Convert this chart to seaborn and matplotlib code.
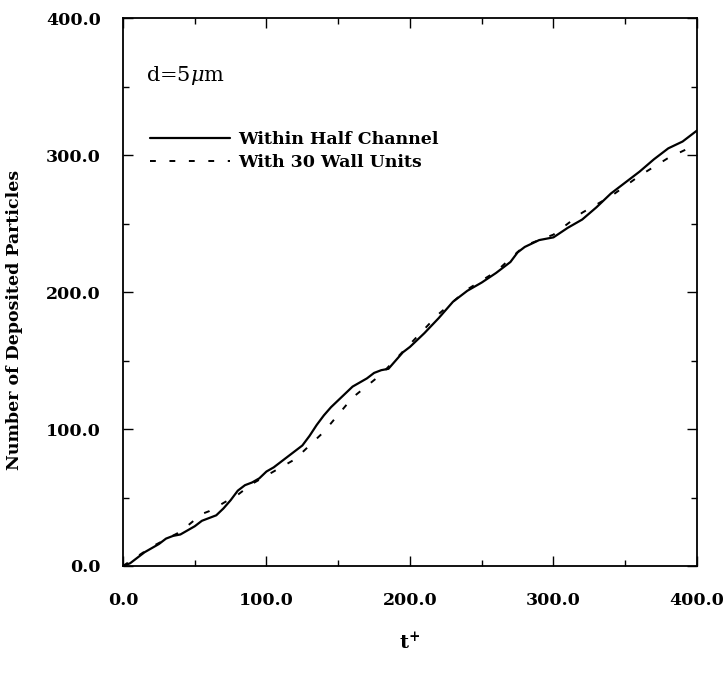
import numpy as np
import pandas as pd
import matplotlib
matplotlib.use("Agg")
import matplotlib.pyplot as plt
from matplotlib.ticker import MultipleLocator, FormatStrFormatter
import seaborn as sns

# solid curve: deposited particles within half channel
t_half = [0, 5, 10, 15, 20, 25, 30, 35, 40, 45, 50, 55, 60, 65, 70, 75, 80, 85, 90, 95,
          100, 105, 110, 115, 120, 125, 130, 135, 140, 145, 150, 155, 160, 165, 170, 175,
          180, 185, 190, 195, 200, 210, 220, 230, 240, 250, 260, 270, 275, 280, 290, 300,
          310, 320, 330, 340, 350, 360, 370, 380, 390, 400]
n_half = [0, 2, 6, 10, 13, 16, 20, 22, 23, 26, 29, 33, 35, 37, 42, 48, 55, 59, 61, 64,
          69, 72, 76, 80, 84, 88, 95, 103, 110, 116, 121, 126, 131, 134, 137, 141,
          143, 144, 150, 156, 160, 170, 181, 193, 201, 207, 214, 222, 229, 233, 238, 240,
          247, 253, 262, 272, 280, 288, 297, 305, 310, 318]

# dashed curve: deposited particles within 30 wall units
t_wall = [0, 20, 40, 55, 60, 80, 90, 100, 120, 140, 160, 180, 200, 220, 240, 260, 280,
          300, 320, 340, 360, 380, 400]
n_wall = [0, 14, 25, 38, 40, 52, 60, 66, 78, 98, 123, 140, 162, 184, 202, 215, 234,
          242, 258, 270, 285, 298, 308]

sns.set_style("white")
plt.rcParams['font.family'] = ['DejaVu Serif']
plt.rcParams['mathtext.fontset'] = 'dejavuserif'
plt.rcParams['text.color'] = 'black'
plt.rcParams['axes.labelcolor'] = 'black'
plt.rcParams['xtick.color'] = 'black'
plt.rcParams['ytick.color'] = 'black'

fig = plt.figure(figsize=(7.26, 6.77), dpi=100)
ax = fig.add_axes([0.1694, 0.164, 0.7906, 0.809])

half = pd.DataFrame({'t': t_half, 'n': n_half})
wall = pd.DataFrame({'t': t_wall, 'n': n_wall})
sns.lineplot(data=half, x='t', y='n', ax=ax, color='black', linewidth=1.6,
             label='Within Half Channel')
sns.lineplot(data=wall, x='t', y='n', ax=ax, color='black', linewidth=1.4,
             linestyle=(0, (3, 7)), label='With 30 Wall Units')

ax.set_xlim(0, 400)
ax.set_ylim(0, 400)
ax.xaxis.set_major_locator(MultipleLocator(100))
ax.yaxis.set_major_locator(MultipleLocator(100))
ax.xaxis.set_minor_locator(MultipleLocator(50))
ax.yaxis.set_minor_locator(MultipleLocator(50))
ax.xaxis.set_major_formatter(FormatStrFormatter('%.1f'))
ax.yaxis.set_major_formatter(FormatStrFormatter('%.1f'))
ax.tick_params(which='both', direction='in', top=True, right=True, bottom=True,
               left=True, labelsize=12.5)
ax.tick_params(axis='x', pad=19)
ax.tick_params(axis='y', pad=16)
ax.tick_params(which='major', length=7, width=1)
ax.tick_params(which='minor', length=4, width=1)
for lab in ax.get_xticklabels() + ax.get_yticklabels():
    lab.set_fontweight('bold')
for s in ax.spines.values():
    s.set_linewidth(1.3)
    s.set_color('black')

ax.set_xlabel('t$^{\\mathbf{+}}$', fontsize=14, fontweight='bold', labelpad=16)
ax.set_ylabel('Number of Deposited Particles', fontsize=12.5, fontweight='bold')
ax.yaxis.set_label_coords(-0.175, 0.45)

ax.text(0.04, 0.895, 'd=5$\\mu$m', transform=ax.transAxes, fontsize=15,
        va='center', ha='left')
ax.legend(loc='upper left', bbox_to_anchor=(0.02, 0.822), frameon=False,
          handlelength=4.6, handletextpad=0.45, labelspacing=0.35,
          prop={'weight': 'bold', 'size': 12.5})

fig.savefig('out.png', dpi=100)
